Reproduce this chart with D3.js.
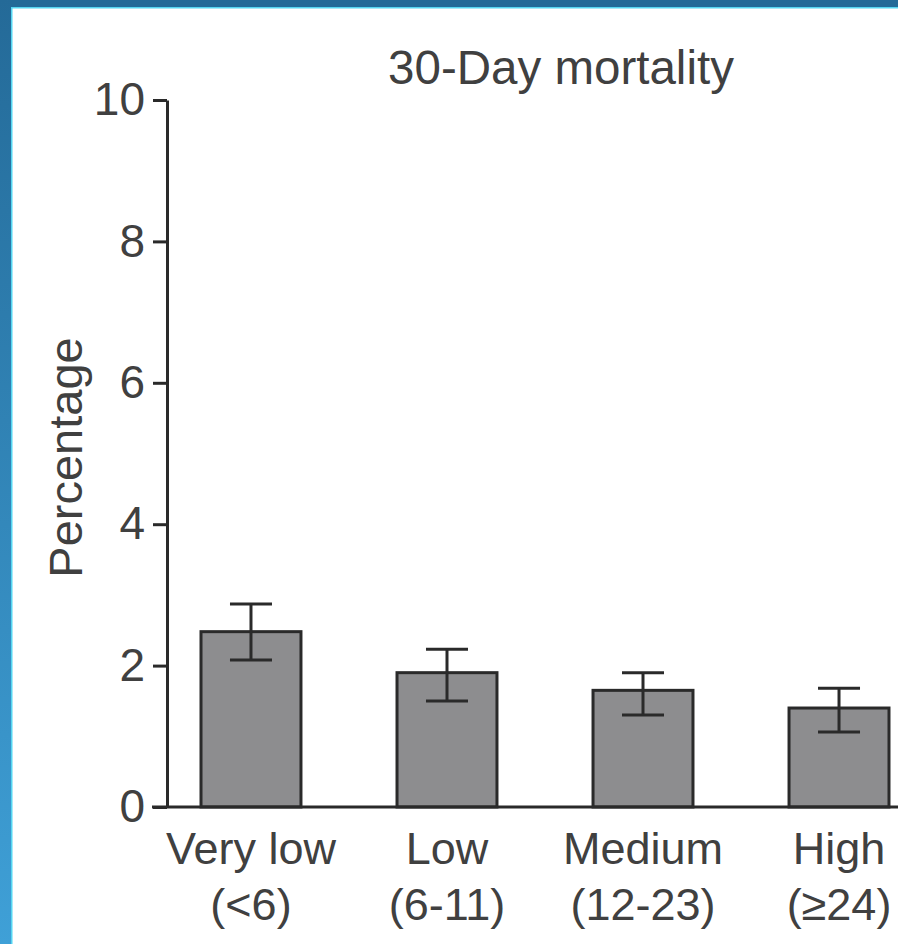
<!DOCTYPE html>
<html>
<head>
<meta charset="utf-8">
<script src="https://cdn.jsdelivr.net/npm/d3@7"></script>
<style>
  body { margin: 0; background: #fff; }
  text { font-family: "Liberation Sans", Arial, Helvetica, sans-serif; fill: #404040; }
</style>
</head>
<body>
<div id="chart"></div>
<script>
const categories = ["Very low", "Low", "Medium", "High"];
const ranges = ["(<6)", "(6-11)", "(12-23)", "(≥24)"];
const values = [2.48, 1.90, 1.65, 1.40];
const ciLow = [2.08, 1.50, 1.30, 1.06];
const ciHigh = [2.87, 2.23, 1.90, 1.68];
const yTicks = [0, 2, 4, 6, 8, 10];

const W = 898, H = 944;
const axisX = 167;

const svg = d3.select("#chart").append("svg")
  .attr("width", W)
  .attr("height", H);

// blue frame on top and left
const defs = svg.append("defs");
const grad = defs.append("linearGradient")
  .attr("id", "frameGrad")
  .attr("x1", 0).attr("y1", 0).attr("x2", 0).attr("y2", 1);
grad.append("stop").attr("offset", "0%").attr("stop-color", "#246a98");
grad.append("stop").attr("offset", "100%").attr("stop-color", "#3fa0d7");

svg.append("rect").attr("x", 0).attr("y", 0).attr("width", W).attr("height", 8).attr("fill", "#246a98");
svg.append("rect").attr("x", 0).attr("y", 0).attr("width", 11).attr("height", H).attr("fill", "url(#frameGrad)");
svg.append("rect").attr("x", 11).attr("y", 7).attr("width", W - 11).attr("height", 1.5).attr("fill", "#55d6f2");
svg.append("rect").attr("x", 11).attr("y", 7).attr("width", 1.5).attr("height", H - 7).attr("fill", "#55d6f2");

const x = d3.scaleBand()
  .domain(categories)
  .range([152, 938])
  .paddingInner(0.49)
  .paddingOuter(0.25);

const y = d3.scaleLinear()
  .domain([0, 10])
  .range([807, 100]);

const data = categories.map((c, i) => ({
  cat: c, range: ranges[i], value: values[i], lo: ciLow[i], hi: ciHigh[i]
}));

// bars
svg.append("g").selectAll("rect")
  .data(data)
  .join("rect")
  .attr("x", d => x(d.cat))
  .attr("y", d => y(d.value))
  .attr("width", x.bandwidth())
  .attr("height", d => y(0) - y(d.value))
  .attr("fill", "#8d8d8f")
  .attr("stroke", "#2a2a2a")
  .attr("stroke-width", 3);

// error bars
const capW = 42;
const err = svg.append("g")
  .attr("stroke", "#2a2a2a")
  .attr("stroke-width", 3);

data.forEach(d => {
  const cx = x(d.cat) + x.bandwidth() / 2;
  err.append("line").attr("x1", cx).attr("x2", cx).attr("y1", y(d.lo)).attr("y2", y(d.hi));
  err.append("line").attr("x1", cx - capW / 2).attr("x2", cx + capW / 2).attr("y1", y(d.hi)).attr("y2", y(d.hi));
  err.append("line").attr("x1", cx - capW / 2).attr("x2", cx + capW / 2).attr("y1", y(d.lo)).attr("y2", y(d.lo));
});

// x axis baseline
const xAxis = svg.append("g")
  .attr("transform", `translate(0, ${y(0)})`)
  .call(d3.axisBottom(x).tickSize(0).tickSizeOuter(0).tickFormat(""));
xAxis.select(".domain").attr("stroke", "#2a2a2a").attr("stroke-width", 3)
  .attr("d", `M${axisX - 15},0H${W}`);

// y axis
const yAxis = svg.append("g")
  .attr("transform", `translate(${axisX}, 0)`)
  .call(d3.axisLeft(y).tickValues(yTicks).tickSize(14).tickPadding(8).tickSizeOuter(0));
yAxis.select(".domain").attr("stroke", "#2a2a2a").attr("stroke-width", 3);
yAxis.selectAll(".tick line").attr("stroke", "#2a2a2a").attr("stroke-width", 3);
yAxis.selectAll(".tick text")
  .attr("font-size", 46)
  .attr("fill", "#404040")
  .style("font-family", "'Liberation Sans', Arial, sans-serif");

// category labels
const labels = svg.append("g").selectAll("text")
  .data(data)
  .join("text")
  .attr("text-anchor", "middle")
  .attr("font-size", 45);
labels.append("tspan")
  .attr("x", d => x(d.cat) + x.bandwidth() / 2)
  .attr("y", 864)
  .text(d => d.cat);
labels.append("tspan")
  .attr("x", d => x(d.cat) + x.bandwidth() / 2)
  .attr("y", 920)
  .text(d => d.range);

// title
svg.append("text")
  .attr("x", 561)
  .attr("y", 84)
  .attr("text-anchor", "middle")
  .attr("font-size", 47.5)
  .text("30-Day mortality");

// y label
svg.append("text")
  .attr("transform", `translate(82, ${(y(0) + y(10)) / 2 + 4}) rotate(-90)`)
  .attr("text-anchor", "middle")
  .attr("font-size", 47)
  .text("Percentage");
</script>
</body>
</html>
